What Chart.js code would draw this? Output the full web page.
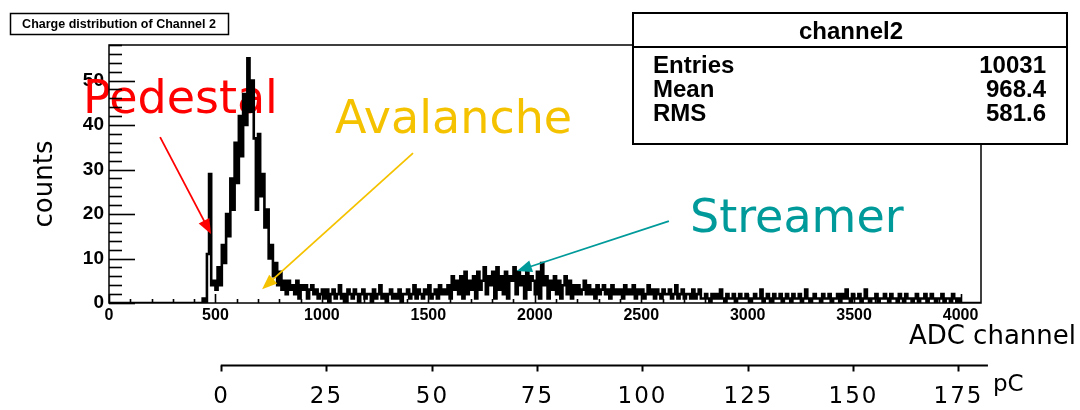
<!DOCTYPE html>
<html>
<head>
<meta charset="utf-8">
<title>Charge distribution of Channel 2</title>
<script src="https://cdn.jsdelivr.net/npm/chart.js@4.4.0/dist/chart.umd.min.js"></script>
<style>
  html, body { margin: 0; padding: 0; background: #fff; }
  #chart { display: block; }
</style>
</head>
<body>
<canvas id="chart" width="1080" height="410"></canvas>
<script>
// channel 2 charge histogram, 10 ADC channels per bin
const binWidth = 10;
const counts = [
  // 0 - 190
  0,0,0,0,0,0,0,0,0,0, 0,0,0,0,0,0,0,0,0,0,
  // 200 - 390
  0,0,0,0,0,0,0,0,0,0, 0,0,0,0,0,0,0,0,0,0,
  // 400 - 590
  0,0,0,0,0,1,0,11,29,4, 5,3,8,4,13,9,20,15,28,21,
  // 600 - 790
  36,27,42,33,47,40,55,43,50,37, 21,38,24,29,17,21,10,13,6,9,
  // 800 - 990
  4,7,3,5,2,5,3,4,2,5, 1,4,3,4,1,3,4,2,3,1,
  // 1000 - 1190
  2,3,1,3,0,2,3,1,2,4, 1,2,0,3,2,1,3,2,0,2,
  // 1200 - 1390
  3,1,2,2,0,3,1,2,4,1, 2,0,2,3,1,2,1,3,0,2,
  // 1400 - 1590
  2,3,1,2,4,1,3,2,1,3, 2,4,1,2,3,1,4,2,3,2,
  // 1600 - 1790
  4,1,6,3,5,2,6,1,7,2, 5,3,6,1,7,3,5,8,2,6,
  // 1800 - 1990
  4,7,1,8,3,6,2,7,1,6, 5,8,2,7,4,6,1,7,3,6,
  // 2000 - 2190
  5,2,7,1,9,4,6,1,5,3, 6,2,5,1,4,6,2,5,1,4,
  // 2200 - 2390
  2,4,2,3,5,2,4,2,3,1, 4,2,3,4,2,3,1,4,2,3,
  // 2400 - 2590
  2,3,1,4,2,3,2,4,1,3, 2,3,1,2,4,2,3,1,3,2,
  // 2600 - 2790
  1,3,2,2,3,1,2,4,1,2, 3,1,2,2,1,3,1,2,3,1,
  // 2800 - 2990
  1,2,1,0,2,1,2,1,3,1, 0,2,1,1,2,0,1,2,1,1,
  // 3000 - 3190
  2,1,0,1,2,1,1,3,0,1, 2,1,0,2,1,1,2,0,1,2,
  // 3200 - 3390
  1,0,2,1,1,2,0,1,3,1, 0,1,2,1,1,0,2,1,1,2,
  // 3400 - 3590
  0,1,1,2,0,2,1,3,1,0, 2,1,1,2,0,1,3,1,0,1,
  // 3600 - 3790
  1,2,0,1,1,2,1,0,2,1, 1,0,2,1,0,2,1,1,0,1,
  // 3800 - 3990
  2,0,1,1,2,0,1,2,1,0, 1,1,2,0,1,1,0,2,1,0,
  // 4000 - 4090
  1,0,0,0,0,0,0,0,0,0
];

const xTicks = [0, 500, 1000, 1500, 2000, 2500, 3000, 3500, 4000];
const yTicks = [0, 10, 20, 30, 40, 50];
const pcTicks = [0, 25, 50, 75, 100, 125, 150, 175];
const pcAxisEnd = 182;       // pC where the lower axis line stops
const pedestalADC = 525;     // ADC channel of 0 pC
const adcPerPC = 19.8;

const statsTitle = 'channel2';
const statsNames = ['Entries', 'Mean', 'RMS'];
const statsValues = ['10031', '968.4', '581.6'];

// labels and arrows, positioned in (ADC, counts)
const notes = [
  { text: 'Pedestal',  x: -122, y: 42.7, color: '#ff0000' },
  { text: 'Avalanche', x: 1062, y: 38.2, color: '#f5c200' },
  { text: 'Streamer',  x: 2729, y: 16.0, color: '#009a9a' }
];
const arrows = [
  { from: [240, 37.3],  to: [479, 15.5], color: '#ff0000' },
  { from: [1428, 33.7], to: [719, 3.1],  color: '#f5c200' },
  { from: [2630, 18.4], to: [1916, 7.2], color: '#009a9a' }
];

const points = counts.map((c, i) => ({ x: i * binWidth, y: c }));
points.push({ x: counts.length * binWidth, y: counts[counts.length - 1] });

function drawArrow(ctx, x1, y1, x2, y2, color) {
  const ang = Math.atan2(y2 - y1, x2 - x1);
  const head = 15, half = 6;
  ctx.save();
  ctx.strokeStyle = color;
  ctx.fillStyle = color;
  ctx.lineWidth = 1.8;
  ctx.beginPath();
  ctx.moveTo(x1, y1);
  ctx.lineTo(x2 - Math.cos(ang) * head * 0.8, y2 - Math.sin(ang) * head * 0.8);
  ctx.stroke();
  ctx.beginPath();
  ctx.moveTo(x2, y2);
  ctx.lineTo(x2 - Math.cos(ang) * head - Math.sin(ang) * half,
             y2 - Math.sin(ang) * head + Math.cos(ang) * half);
  ctx.lineTo(x2 - Math.cos(ang) * head + Math.sin(ang) * half,
             y2 - Math.sin(ang) * head - Math.cos(ang) * half);
  ctx.closePath();
  ctx.fill();
  ctx.restore();
}

const rootStyle = {
  id: 'rootStyle',
  beforeDatasetsDraw(chart) {
    const ctx = chart.ctx, xs = chart.scales.x, ys = chart.scales.y;
    ctx.save();
    ctx.font = '46px "DejaVu Sans"';
    ctx.textAlign = 'left';
    ctx.textBaseline = 'alphabetic';
    notes.forEach(n => {
      ctx.fillStyle = n.color;
      ctx.fillText(n.text, xs.getPixelForValue(n.x), ys.getPixelForValue(n.y));
    });
    ctx.restore();
  },
  afterDraw(chart) {
    const ctx = chart.ctx, xs = chart.scales.x, ys = chart.scales.y;
    const a = chart.chartArea;

    arrows.forEach(ar => drawArrow(ctx,
      xs.getPixelForValue(ar.from[0]), ys.getPixelForValue(ar.from[1]),
      xs.getPixelForValue(ar.to[0]), ys.getPixelForValue(ar.to[1]), ar.color));

    ctx.save();
    ctx.strokeStyle = '#000';
    // frame
    ctx.lineWidth = 1.5;
    ctx.strokeRect(a.left, a.top, a.right - a.left, a.bottom - a.top);
    // y ticks, inside
    ctx.lineWidth = 1.6;
    for (let v = 0; v <= ys.max; v += 2) {
      const py = Math.round(ys.getPixelForValue(v)) + 0.5;
      const len = v % 10 === 0 ? 26 : 13;
      ctx.beginPath();
      ctx.moveTo(a.left, py);
      ctx.lineTo(a.left + len, py);
      ctx.stroke();
    }
    // x ticks, inside
    for (let v = 0; v <= xs.max; v += 100) {
      const px = Math.round(xs.getPixelForValue(v)) + 0.5;
      const len = v % 500 === 0 ? 9 : 4;
      ctx.beginPath();
      ctx.moveTo(px, a.bottom);
      ctx.lineTo(px, a.bottom - len);
      ctx.stroke();
    }

    // second axis in pC
    const pcPx = pc => xs.getPixelForValue(pedestalADC + pc * adcPerPC);
    const axisY = 365.5;
    ctx.lineWidth = 2;
    ctx.beginPath();
    ctx.moveTo(pcPx(0), axisY);
    ctx.lineTo(pcPx(pcAxisEnd), axisY);
    ctx.stroke();
    ctx.fillStyle = '#000';
    ctx.font = '23px "DejaVu Sans"';
    ctx.letterSpacing = '2px';
    ctx.textAlign = 'center';
    ctx.textBaseline = 'alphabetic';
    pcTicks.forEach(t => {
      const px = Math.round(pcPx(t)) + 0.5;
      ctx.beginPath();
      ctx.moveTo(px, axisY);
      ctx.lineTo(px, axisY + 6);
      ctx.stroke();
      ctx.fillText(String(t), px, 403);
    });
    ctx.letterSpacing = '0px';
    ctx.textAlign = 'left';
    ctx.fillText('pC', pcPx(pcAxisEnd) + 5, 391);

    // axis titles
    ctx.font = '26px "DejaVu Sans"';
    ctx.textAlign = 'right';
    ctx.fillText('ADC channel', 1076, 344);
    ctx.save();
    ctx.translate(52, 184);
    ctx.rotate(-Math.PI / 2);
    ctx.textAlign = 'center';
    ctx.fillText('counts', 0, 0);
    ctx.restore();

    // title box
    ctx.fillStyle = '#fff';
    ctx.fillRect(10, 13, 218, 21);
    ctx.lineWidth = 1.5;
    ctx.strokeRect(10.5, 13.5, 218, 21);
    ctx.fillStyle = '#000';
    ctx.font = 'bold 12.5px "Liberation Sans"';
    ctx.textAlign = 'center';
    ctx.textBaseline = 'middle';
    ctx.fillText('Charge distribution of Channel 2', 119, 24.5);

    // stats box
    ctx.fillStyle = '#fff';
    ctx.fillRect(633, 13, 434, 131);
    ctx.lineWidth = 2;
    ctx.strokeRect(633, 13, 434, 131);
    ctx.beginPath();
    ctx.moveTo(633, 47);
    ctx.lineTo(1067, 47);
    ctx.stroke();
    ctx.fillStyle = '#000';
    ctx.textBaseline = 'alphabetic';
    ctx.font = 'bold 24px "Liberation Sans"';
    ctx.textAlign = 'center';
    ctx.fillText(statsTitle, 851, 39);
    statsNames.forEach((name, i) => {
      const by = 73 + i * 24;
      ctx.textAlign = 'left';
      ctx.fillText(name, 653, by);
      ctx.textAlign = 'right';
      ctx.fillText(statsValues[i], 1046, by);
    });
    ctx.restore();
  }
};

new Chart(document.getElementById('chart').getContext('2d'), {
  type: 'line',
  data: {
    datasets: [{
      data: points,
      stepped: 'after',
      borderColor: '#000',
      borderWidth: 2.6,
      pointRadius: 0,
      fill: false
    }]
  },
  options: {
    responsive: false,
    animation: false,
    devicePixelRatio: 1,
    layout: { padding: { left: 0, top: 45, right: 99, bottom: 77 } },
    plugins: {
      legend: { display: false },
      tooltip: { enabled: false },
      title: { display: false }
    },
    scales: {
      x: {
        type: 'linear',
        min: 0,
        max: 4096,
        grid: { display: false, drawTicks: false },
        border: { display: false },
        afterBuildTicks: s => { s.ticks = xTicks.map(v => ({ value: v })); },
        afterFit: s => { s.height = 30; },
        ticks: {
          padding: 3,
          autoSkip: false,
          maxRotation: 0,
          color: '#000',
          callback: v => String(v),
          font: { family: 'Liberation Sans', size: 16, weight: 'bold' }
        }
      },
      y: {
        min: 0,
        max: 58,
        grid: { display: false, drawTicks: false },
        border: { display: false },
        afterBuildTicks: s => { s.ticks = yTicks.map(v => ({ value: v })); },
        afterFit: s => { s.width = 109; },
        ticks: {
          padding: 5,
          color: '#000',
          font: { family: 'Liberation Sans', size: 19, weight: 'bold' }
        }
      }
    }
  },
  plugins: [rootStyle]
});
</script>
</body>
</html>
